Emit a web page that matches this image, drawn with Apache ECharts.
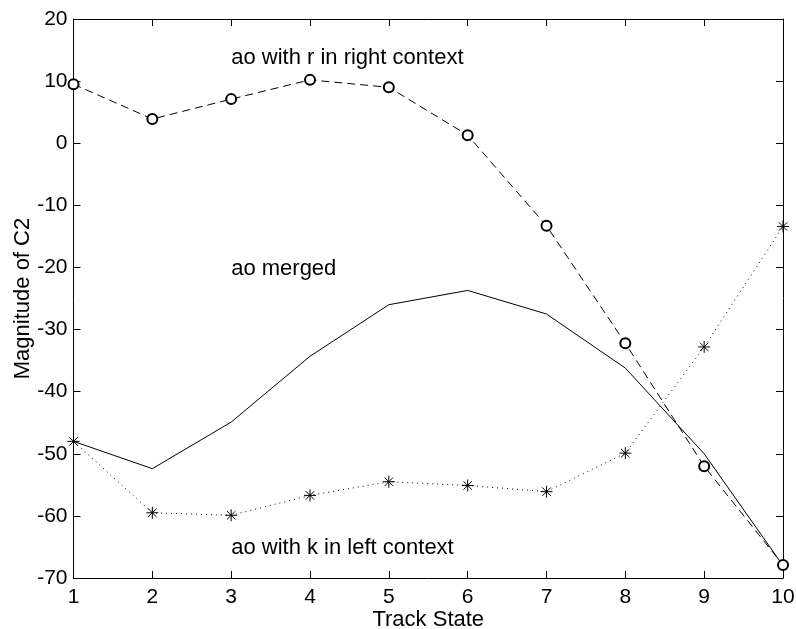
<!DOCTYPE html>
<html>
<head>
<meta charset="utf-8">
<script src="https://cdn.jsdelivr.net/npm/echarts@6/dist/echarts.min.js"></script>
<style>
  html, body { margin: 0; padding: 0; background: #fff; }
  #chart { width: 796px; height: 629px; }
</style>
</head>
<body>
<div id="chart"></div>
<script>
// Track states along the x axis
const trackStates = [1, 2, 3, 4, 5, 6, 7, 8, 9, 10];

// Magnitude of C2 for each model variant
const rightContext = [9.5, 3.9, 7.1, 10.2, 9.0, 1.3, -13.3, -32.2, -52.0, -67.9];
const merged       = [-48.0, -52.4, -44.9, -34.3, -26.0, -23.7, -27.5, -36.2, -50.0, -68.0];
const leftContext  = [-48.0, -59.5, -59.9, -56.7, -54.5, -55.1, -56.1, -49.9, -32.8, -13.4];

// In-plot annotations: text and anchor (x, y) in data units
const noteTexts = ['ao with r in right context', 'ao merged', 'ao with k in left context'];
const noteX = [3, 3, 3];
const noteY = [13.7, -20.2, -65.2];

const FONT = '"Liberation Sans", Arial, sans-serif';
const ASTERISK = 'path://M0,5L10,5M5,0L5,10M1.5,1.5L8.5,8.5M1.5,8.5L8.5,1.5';

const zip = (xs, ys) => xs.map((x, i) => [x, ys[i]]);

const chart = echarts.init(document.getElementById('chart'), null, { renderer: 'canvas' });

const axisCommon = {
  axisLine: { show: true, onZero: false, lineStyle: { color: '#000', width: 1 } },
  axisTick: { show: true, inside: true, length: 7, lineStyle: { color: '#000', width: 1 } },
  splitLine: { show: false }
};

chart.setOption({
  animation: false,
  backgroundColor: '#fff',
  grid: { left: 73.5, right: 13, top: 19, bottom: 51, containLabel: false, outerBoundsMode: 'none' },
  xAxis: [
    Object.assign({
      type: 'value', min: 1, max: 10, interval: 1, position: 'bottom',
      name: 'Track State', nameLocation: 'middle', nameGap: 31, nameMoveOverlap: false,
      nameTextStyle: { fontFamily: FONT, fontSize: 22, color: '#000' },
      axisLabel: { fontFamily: FONT, fontSize: 21, color: '#000', margin: 9 }
    }, axisCommon),
    Object.assign({
      type: 'value', min: 1, max: 10, interval: 1, position: 'top',
      axisLabel: { show: false }
    }, axisCommon)
  ],
  yAxis: [
    Object.assign({
      type: 'value', min: -70, max: 20, interval: 10, position: 'left',
      name: 'Magnitude of C2', nameLocation: 'middle', nameGap: 40, nameMoveOverlap: false,
      nameTextStyle: { fontFamily: FONT, fontSize: 22, color: '#000' },
      axisLabel: { fontFamily: FONT, fontSize: 21, color: '#000', margin: 6 }
    }, axisCommon),
    Object.assign({
      type: 'value', min: -70, max: 20, interval: 10, position: 'right',
      axisLabel: { show: false }
    }, axisCommon)
  ],
  series: [
    {
      name: 'ao with r in right context',
      type: 'line',
      data: zip(trackStates, rightContext),
      symbol: 'emptyCircle',
      symbolSize: 10,
      lineStyle: { color: '#000', width: 1, type: [8, 5] },
      itemStyle: { color: '#000', borderColor: '#000', borderWidth: 0.8 },
      z: 3
    },
    {
      name: 'ao merged',
      type: 'line',
      data: zip(trackStates, merged),
      showSymbol: false,
      symbol: 'none',
      lineStyle: { color: '#000', width: 1, type: 'solid' },
      z: 2
    },
    {
      name: 'ao with k in left context',
      type: 'line',
      data: zip(trackStates, leftContext),
      symbol: ASTERISK,
      symbolSize: 12,
      lineStyle: { color: '#000', width: 1, type: [1, 4] },
      itemStyle: { color: 'rgba(0,0,0,0)', borderColor: '#000', borderWidth: 1 },
      z: 3
    },
    {
      name: 'notes',
      type: 'scatter',
      data: noteTexts.map((t, i) => ({ name: t, value: [noteX[i], noteY[i]] })),
      symbolSize: 0,
      silent: true,
      itemStyle: { opacity: 1 },
      label: {
        show: true, position: 'right', distance: 0,
        formatter: p => p.name,
        fontFamily: FONT, fontSize: 22, color: '#000', opacity: 1
      },
      z: 4
    }
  ]
});
</script>
</body>
</html>
